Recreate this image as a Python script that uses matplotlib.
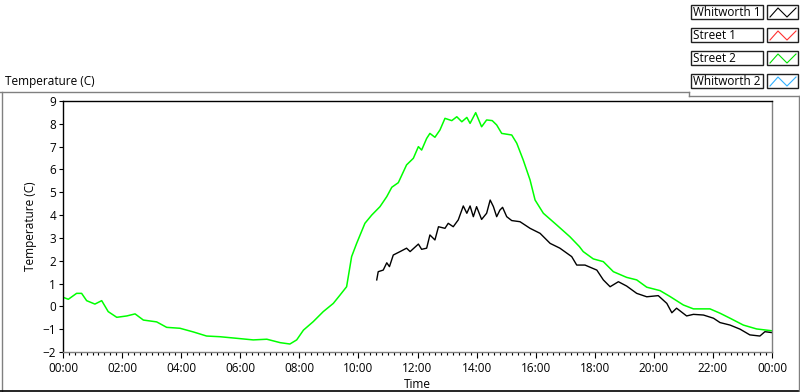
import matplotlib
matplotlib.use("Agg")
import matplotlib.pyplot as plt
from matplotlib.lines import Line2D
from matplotlib.patches import Rectangle
from matplotlib.ticker import MultipleLocator, FixedLocator

plt.rcParams['font.family'] = ['Open Sans', 'DejaVu Sans']

# ---- data (hours since midnight, temperature in C) ----
street2_t = [0.00, 0.18, 0.46, 0.63, 0.80, 1.08, 1.31, 1.53, 1.82, 2.16, 2.44, 2.72,
             3.17, 3.51, 3.96, 4.41, 4.86, 5.31, 5.88, 6.44, 6.90, 7.35, 7.68, 7.91,
             8.14, 8.47, 8.81, 9.15, 9.38, 9.60, 9.77, 9.94, 10.22, 10.45, 10.73,
             10.96, 11.13, 11.35, 11.63, 11.86, 12.03, 12.14, 12.31, 12.42, 12.59,
             12.76, 12.93, 13.16, 13.33, 13.50, 13.67, 13.78, 13.97, 14.17, 14.34,
             14.53, 14.68, 14.85, 15.19, 15.36, 15.58, 15.81, 15.98, 16.26, 16.71,
             17.16, 17.48, 17.61, 17.95, 18.29, 18.63, 19.08, 19.42, 19.76, 20.21,
             20.55, 21.00, 21.34, 21.90, 22.24, 22.58, 23.03, 23.48, 24.00]
street2_v = [0.40, 0.31, 0.57, 0.57, 0.25, 0.10, 0.25, -0.23, -0.48, -0.42, -0.33, -0.60,
             -0.68, -0.92, -0.96, -1.12, -1.30, -1.33, -1.40, -1.47, -1.44, -1.59, -1.65, -1.47,
             -1.04, -0.67, -0.23, 0.13, 0.50, 0.86, 2.18, 2.76, 3.64, 4.00, 4.37,
             4.81, 5.22, 5.42, 6.20, 6.49, 7.00, 6.85, 7.36, 7.58, 7.41,
             7.73, 8.24, 8.14, 8.31, 8.09, 8.28, 8.02, 8.49, 7.87, 8.17,
             8.14, 7.95, 7.58, 7.51, 7.15, 6.41, 5.54, 4.66, 4.08, 3.57,
             3.05, 2.62, 2.40, 2.08, 1.96, 1.52, 1.27, 1.16, 0.84, 0.69,
             0.43, 0.06, -0.11, -0.11, -0.30, -0.52, -0.82, -0.99, -1.07]

whitworth1_t = [10.62, 10.67, 10.84, 10.96, 11.05, 11.18, 11.41, 11.63, 11.75, 12.03,
                12.14, 12.31, 12.42, 12.59, 12.71, 12.93, 13.04, 13.21, 13.38, 13.55,
                13.67, 13.78, 13.89, 14.00, 14.17, 14.34, 14.46, 14.57, 14.68, 14.79,
                14.88, 15.02, 15.19, 15.47, 15.81, 16.15, 16.49, 16.82, 17.22, 17.39,
                17.67, 18.07, 18.29, 18.52, 18.80, 19.08, 19.42, 19.76, 20.15, 20.44,
                20.61, 20.77, 21.11, 21.34, 21.68, 22.02, 22.24, 22.58, 22.92, 23.25,
                23.59, 23.76, 24.00]
whitworth1_v = [1.16, 1.52, 1.59, 1.91, 1.74, 2.25, 2.40, 2.55, 2.40, 2.73,
                2.50, 2.55, 3.13, 2.91, 3.49, 3.42, 3.64, 3.49, 3.79, 4.40,
                4.08, 4.40, 3.93, 4.37, 3.81, 4.08, 4.66, 4.37, 3.93, 4.22,
                4.34, 3.93, 3.76, 3.71, 3.42, 3.20, 2.76, 2.55, 2.18, 1.81,
                1.81, 1.59, 1.16, 0.86, 1.08, 0.89, 0.57, 0.42, 0.47, 0.13,
                -0.28, -0.08, -0.42, -0.35, -0.38, -0.52, -0.71, -0.82, -1.00, -1.25,
                -1.30, -1.11, -1.15]

legend_names = ["Whitworth 1", "Street 1", "Street 2", "Whitworth 2"]
legend_colors = ["#000000", "#ff3030", "#00e000", "#30b0ff"]

x_ticks = list(range(0, 25, 2))
x_labels = ["%02d:00" % (h % 24) for h in x_ticks]
y_ticks = list(range(-2, 10))

W, H = 800, 392
fig = plt.figure(figsize=(W / 100, H / 100), dpi=100)
fig.patch.set_facecolor("white")

ax = fig.add_axes([63 / W, 1 - 352 / H, 709 / W, 251 / H])
ax.plot(street2_t, street2_v, color="#00ff00", lw=1.1)
ax.plot(whitworth1_t, whitworth1_v, color="#000000", lw=1.0)
ax.set_xlim(0, 24)
ax.set_ylim(-2, 9)
ax.xaxis.set_major_locator(FixedLocator(x_ticks))
ax.set_xticklabels(x_labels)
ax.xaxis.set_minor_locator(MultipleLocator(0.2))
ax.set_yticks(y_ticks)
ax.tick_params(axis="x", which="major", direction="out", length=4, width=0.8, pad=3, labelsize=8.5)
ax.tick_params(axis="x", which="minor", direction="out", length=2.2, width=0.8)
ax.tick_params(axis="y", which="major", direction="out", length=3, width=0.8, pad=2, labelsize=8.5)
for s in ("left", "top"):
    ax.spines[s].set_color("black")
    ax.spines[s].set_linewidth(1.0)
for s in ("right", "bottom"):
    ax.spines[s].set_color("#808080")
    ax.spines[s].set_linewidth(1.0)
ax.set_xlabel("Time", fontsize=8.5, labelpad=2)
ax.set_ylabel("Temperature (C)", fontsize=8.5)
ax.yaxis.set_label_coords(-0.036, 0.5)

fig.text(5 / W, 1 - 81 / H, "Temperature (C)", fontsize=8.5, va="center", ha="left")

# overlay for panel frame and legend
ov = fig.add_axes([0, 0, 1, 1], zorder=5)
ov.set_xlim(0, W)
ov.set_ylim(H, 0)
ov.axis("off")
ov.patch.set_alpha(0)
frame_kw = dict(color="#808080", lw=1.0)
ov.add_line(Line2D([0, 689], [92, 92], **frame_kw))
ov.add_line(Line2D([689, 689], [92, 96], **frame_kw))
ov.add_line(Line2D([689, 800], [96, 96], **frame_kw))
ov.add_line(Line2D([1.5, 1.5], [92, 392], **frame_kw))
ov.add_line(Line2D([0, 800], [390.5, 390.5], color="black", lw=1.2))
ov.add_line(Line2D([799, 799], [96, 392], **frame_kw))

for i, (name, col) in enumerate(zip(legend_names, legend_colors)):
    y0 = 5 + i * 23
    ov.add_patch(Rectangle((691, y0), 72, 14, fill=False, ec="#202020", lw=1.0))
    ov.text(693, y0 + 7, name, fontsize=8.5, va="center", ha="left")
    ov.add_patch(Rectangle((767, y0), 31, 14, fill=False, ec="#202020", lw=1.0))
    ov.add_line(Line2D([770, 778, 787, 796], [y0 + 12, y0 + 3, y0 + 12, y0 + 3], color=col, lw=0.8))

fig.savefig("out.png", dpi=100, facecolor="white")
